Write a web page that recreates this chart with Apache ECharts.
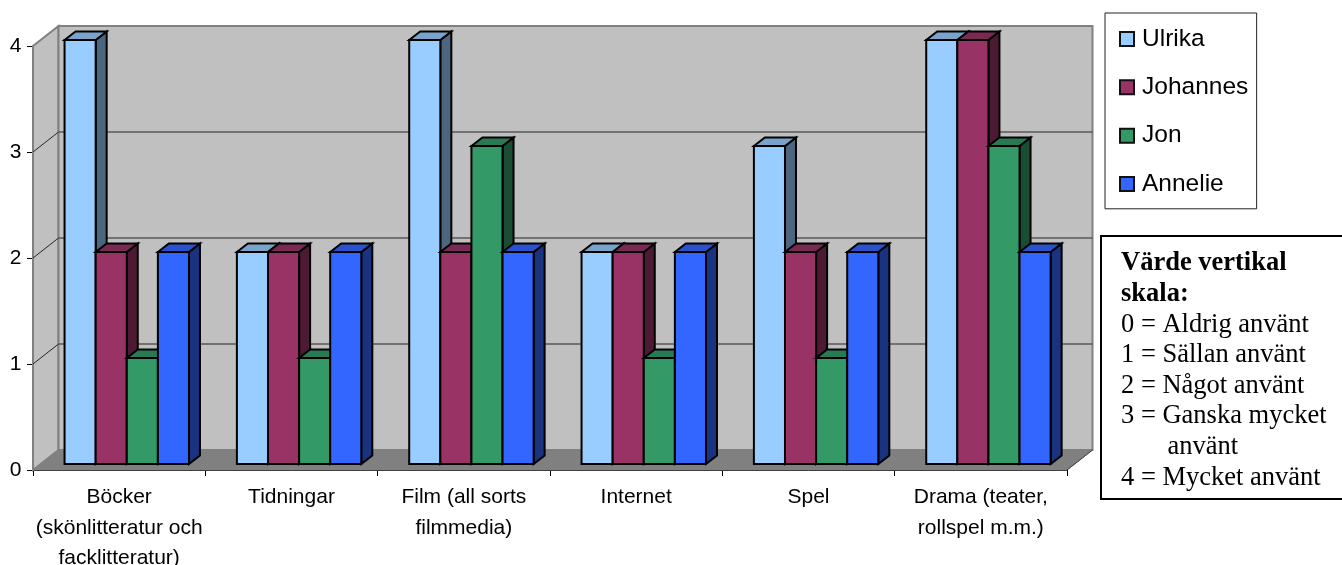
<!DOCTYPE html>
<html>
<head>
<meta charset="utf-8">
<style>html,body{margin:0;padding:0;background:#fff}#chart{width:1342px;height:565px}</style>
<script src="https://cdn.jsdelivr.net/npm/echarts@6/dist/echarts.min.js"></script>
</head>
<body>
<div id="chart"></div>
<script>
const categories = ['Böcker\n(skönlitteratur och\nfacklitteratur)', 'Tidningar', 'Film (all sorts\nfilmmedia)', 'Internet', 'Spel', 'Drama (teater,\nrollspel m.m.)'];
const ulrika = [4, 2, 4, 2, 3, 4];
const johannes = [2, 2, 2, 2, 2, 4];
const jon = [1, 1, 3, 1, 1, 3];
const annelie = [2, 2, 2, 2, 2, 2];
const seriesNames = ['Ulrika', 'Johannes', 'Jon', 'Annelie'];
const seriesValues = [ulrika, johannes, jon, annelie];
const faceColors = ['#99CCFF', '#993366', '#339966', '#3366FF'];
const topColors = ['#7AA3CC', '#7A2952', '#297A52', '#2952CC'];
const sideColors = ['#4D6680', '#4D1A33', '#1A4D33', '#1A3380'];
const yTicks = [0, 1, 2, 3, 4];
const scaleHeading = ['Värde vertikal', 'skala:'];
const scaleLines = ['0 = Aldrig använt', '1 = Sällan använt', '2 = Något använt', '3 = Ganska mycket', '       använt', '4 = Mycket använt'];

// Oblique projection of the 3D box: chart depth, and bar depth inside it.
const WALL_DX = 25.5, WALL_DY = -20;
const BAR_INSET_DX = 7.6, BAR_INSET_DY = -6;
const BAR_DX = 11, BAR_DY = -8.5;
const BAR_SHARE = 0.1805;

function quad(a, b, c, d, fill, stroke, lineWidth) {
  return {
    type: 'polygon',
    shape: { points: [a, b, c, d] },
    style: { fill: fill, stroke: stroke, lineWidth: lineWidth }
  };
}

// Back wall, side wall, floor and the value gridlines.
function renderWalls(params, api) {
  const tick = api.value(1);
  const band = api.size([1, 0])[0];
  const p = api.coord([0, tick]);
  const xL = p[0] - band / 2, xR = xL + band * categories.length;
  const bxL = xL + WALL_DX, bxR = xR + WALL_DX;
  if (api.value(0) !== 0) {
    if (tick === 4) return { type: 'group', children: [] };
    return {
      type: 'group',
      children: [
        { type: 'line', shape: { x1: xL, y1: p[1], x2: bxL, y2: p[1] + WALL_DY }, style: { stroke: '#262626', lineWidth: 1 } },
        { type: 'line', shape: { x1: bxL, y1: p[1] + WALL_DY, x2: bxR, y2: p[1] + WALL_DY }, style: { stroke: '#595959', lineWidth: 1.5 } }
      ]
    };
  }
  const top = api.coord([0, 4]);
  const yB = p[1], yT = top[1];
  const byB = yB + WALL_DY, byT = yT + WALL_DY;
  return {
    type: 'group',
    children: [
      quad([xL, yB], [xL, yT], [bxL, byT], [bxL, byB], '#C0C0C0', '#808080', 2),
      quad([bxL, byB], [bxL, byT], [bxR, byT], [bxR, byB], '#C0C0C0', '#808080', 2),
      quad([xL, yB], [bxL, byB], [bxR, byB], [xR, yB], '#808080', '#808080', 1),
      { type: 'line', shape: { x1: xR, y1: yB, x2: bxR, y2: byB }, style: { stroke: '#404040', lineWidth: 1 } }
    ]
  };
}

// One 3D bar: front face, top face and right side face.
function renderBar(seriesIndex) {
  return function (params, api) {
    const cat = api.value(0);
    const base = api.coord([cat, 0]);
    const head = api.coord([cat, api.value(1)]);
    const band = api.size([1, 0])[0];
    const w = band * BAR_SHARE;
    const x = base[0] - 2 * w + seriesIndex * w + BAR_INSET_DX;
    const yB = base[1] + BAR_INSET_DY;
    const yT = head[1] + BAR_INSET_DY;
    const border = { stroke: '#000', lineWidth: 2, lineJoin: 'miter' };
    return {
      type: 'group',
      children: [
        { type: 'polygon', shape: { points: [[x + w, yB], [x + w, yT], [x + w + BAR_DX, yT + BAR_DY], [x + w + BAR_DX, yB + BAR_DY]] },
          style: Object.assign({ fill: sideColors[seriesIndex] }, border) },
        { type: 'polygon', shape: { points: [[x, yT], [x + BAR_DX, yT + BAR_DY], [x + w + BAR_DX, yT + BAR_DY], [x + w, yT]] },
          style: Object.assign({ fill: topColors[seriesIndex] }, border) },
        { type: 'rect', shape: { x: x, y: yT, width: w, height: yB - yT },
          style: Object.assign({ fill: faceColors[seriesIndex] }, border) }
      ]
    };
  };
}

const wallData = yTicks.map(function (v, i) { return [i === 0 ? 0 : 1, v]; });

const chart = echarts.init(document.getElementById('chart'), null, { renderer: 'canvas' });
chart.setOption({
  animation: false,
  backgroundColor: '#fff',
  grid: { left: 33, right: 275, top: 46, bottom: 95, outerBoundsMode: 'none' },
  xAxis: {
    type: 'category',
    data: categories,
    axisLine: { lineStyle: { color: '#000', width: 1 } },
    axisTick: { show: true, length: 6, lineStyle: { color: '#000' } },
    axisLabel: { color: '#000', fontFamily: 'Liberation Sans', fontSize: 21, lineHeight: 30.5, margin: 12, interval: 0 }
  },
  yAxis: {
    type: 'value',
    min: 0, max: 4, interval: 1,
    axisLine: { show: true, lineStyle: { color: '#000', width: 1 } },
    axisTick: { show: true, length: 6, lineStyle: { color: '#000' } },
    splitLine: { show: false },
    axisLabel: { color: '#000', fontFamily: 'Liberation Sans', fontSize: 21, margin: 11.5 }
  },
  legend: {
    orient: 'vertical',
    left: 1105, top: 13,
    padding: [13.4, 8.4, 12.2, 14],
    itemGap: 23.4,
    itemWidth: 14, itemHeight: 14,
    icon: 'rect',
    backgroundColor: '#fff',
    borderColor: '#222', borderWidth: 1,
    textStyle: { color: '#000', fontFamily: 'Liberation Sans', fontSize: 24.5, padding: [0, 0, 10, 3] },
    data: seriesNames.map(function (n, i) {
      return { name: n, itemStyle: { color: faceColors[i], borderColor: '#111', borderWidth: 2 } };
    })
  },
  series: [
    { type: 'custom', name: 'walls', coordinateSystem: 'cartesian2d', silent: true, renderItem: renderWalls, data: wallData, encode: { x: 0, y: 1 } }
  ].concat(seriesNames.map(function (n, i) {
    return {
      type: 'custom', name: n, coordinateSystem: 'cartesian2d',
      renderItem: renderBar(i),
      itemStyle: { color: faceColors[i] },
      encode: { x: 0, y: 1 },
      data: seriesValues[i].map(function (v, c) { return [c, v]; })
    };
  })),
  graphic: [
    { type: 'rect', left: 1100, top: 235, shape: { width: 260, height: 263 }, style: { fill: '#fff', stroke: '#000', lineWidth: 2 } },
    {
      type: 'text', left: 1121, top: 250,
      style: {
        text: scaleHeading.map(function (t) { return '{h|' + t + '}'; }).join('\n') + '\n' +
              scaleLines.map(function (t) { return '{n|' + t + '}'; }).join('\n'),
        rich: {
          h: { fontFamily: 'Liberation Serif', fontSize: 26.5, fontWeight: 'bold', lineHeight: 30.6, fill: '#000' },
          n: { fontFamily: 'Liberation Serif', fontSize: 26.5, lineHeight: 30.6, fill: '#000' }
        }
      }
    }
  ]
});
</script>
</body>
</html>
